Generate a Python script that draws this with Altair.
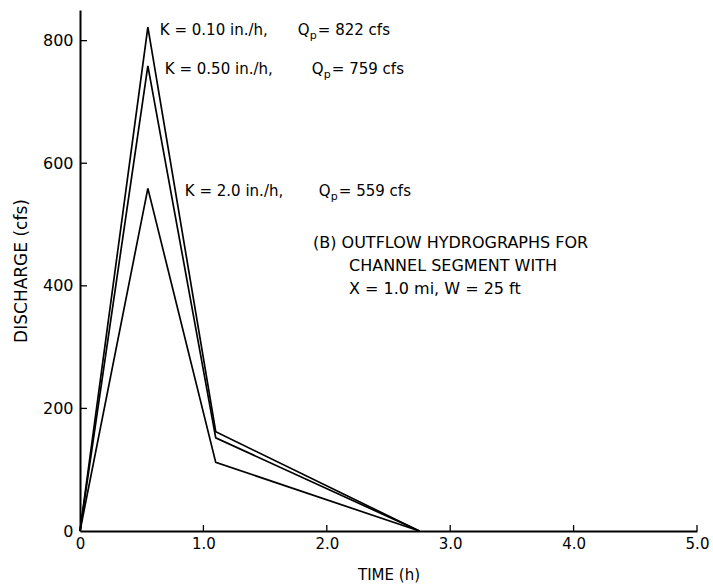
import altair as alt
import pandas as pd

# ---- data ----
time_h = [0.0, 0.55, 1.1, 2.75]
q_k010 = [0, 822, 162, 0]
q_k050 = [0, 759, 152, 0]
q_k200 = [0, 559, 112, 0]
k_values = ["0.10", "0.50", "2.0"]
peak_q = [822, 759, 559]
peak_t = [0.55, 0.55, 0.55]
x_ticks = [0, 1, 2, 3, 4, 5]
y_ticks = [0, 200, 400, 600, 800]
note_lines = ["(B) OUTFLOW HYDROGRAPHS FOR", "CHANNEL SEGMENT WITH", "X = 1.0 mi, W = 25 ft"]

FONT = "DejaVu Sans"
W, H = 617, 521

rows = []
for name, qs in zip(k_values, [q_k010, q_k050, q_k200]):
    for t, q in zip(time_h, qs):
        rows.append({"series": name, "t": t, "q": q})
df = pd.DataFrame(rows)

xs = alt.Scale(domain=[0, 5], nice=False, zero=False)
ys = alt.Scale(domain=[0, 850], nice=False)

base_x = alt.X("t:Q", scale=xs, title="TIME (h)",
               axis=alt.Axis(values=x_ticks, tickSize=0, grid=False, labelFlush=False,
                             labelExpr="datum.value == 0 ? '0' : format(datum.value, '.1f')",
                             labelFont=FONT, labelFontSize=15, labelColor="black",
                             labelPadding=5, domainColor="black", domainWidth=2,
                             titleFont=FONT, titleFontSize=15, titleFontWeight="normal",
                             titleColor="black", titlePadding=16))
base_y = alt.Y("q:Q", scale=ys, title="DISCHARGE (cfs)",
               axis=alt.Axis(values=y_ticks, tickSize=0, grid=False, labelFlush=False,
                             labelFont=FONT, labelFontSize=16, labelColor="black",
                             labelPadding=7, domainColor="black", domainWidth=2,
                             titleFont=FONT, titleFontSize=17, titleFontWeight="normal",
                             titleColor="black", titlePadding=12))

lines = alt.Chart(df).mark_line(color="black", strokeWidth=1.7).encode(
    x=base_x, y=base_y, detail="series:N"
)

xt = pd.DataFrame({"t": x_ticks[1:]})
xtick = alt.Chart(xt).mark_rule(color="black", strokeWidth=1.3).encode(
    x=alt.X("t:Q", scale=xs), y=alt.value(H), y2=alt.value(H - 6)
)
yt = pd.DataFrame({"q": y_ticks[1:]})
ytick = alt.Chart(yt).mark_rule(color="black", strokeWidth=1.3).encode(
    y=alt.Y("q:Q", scale=ys), x=alt.value(0), x2=alt.value(7)
)

layers = [lines, xtick, ytick]

kdx = [12, 17, 37]
qdx = [150, 164, 171]
for k, qp, tp, a, b in zip(k_values, peak_q, peak_t, kdx, qdx):
    d = pd.DataFrame({"t": [tp], "q": [qp],
                      "ktxt": [f"K = {k} in./h,"], "qtxt": [f"= {qp} cfs"]})
    enc = dict(x=alt.X("t:Q", scale=xs), y=alt.Y("q:Q", scale=ys))
    layers.append(alt.Chart(d).mark_text(align="left", baseline="middle", font=FONT,
                                         fontSize=15, dx=a, dy=3, color="black")
                  .encode(text="ktxt:N", **enc))
    layers.append(alt.Chart(d).mark_text(align="left", baseline="middle", font=FONT,
                                         fontSize=15, dx=b, dy=3, color="black")
                  .encode(text=alt.value("Q"), **enc))
    layers.append(alt.Chart(d).mark_text(align="left", baseline="middle", font=FONT,
                                         fontSize=11, dx=b + 12, dy=9, color="black")
                  .encode(text=alt.value("p"), **enc))
    layers.append(alt.Chart(d).mark_text(align="left", baseline="middle", font=FONT,
                                         fontSize=15, dx=b + 20, dy=3, color="black")
                  .encode(text="qtxt:N", **enc))

note_x = [233, 269, 269]
note_y = [233, 256, 279]
for txt, nx, ny in zip(note_lines, note_x, note_y):
    layers.append(alt.Chart(pd.DataFrame({"s": [txt]})).mark_text(
        align="left", baseline="middle", font=FONT, fontSize=16, color="black")
        .encode(text="s:N", x=alt.value(nx), y=alt.value(ny)))

chart = alt.layer(*layers).properties(
    width=W, height=H,
    padding={"left": 80, "top": 10, "right": 16, "bottom": 55},
    autosize=alt.AutoSizeParams(type="none"),
    background="white",
).configure_view(stroke=None)

chart.save("out.html", embed_options={"renderer": "svg", "actions": False})
